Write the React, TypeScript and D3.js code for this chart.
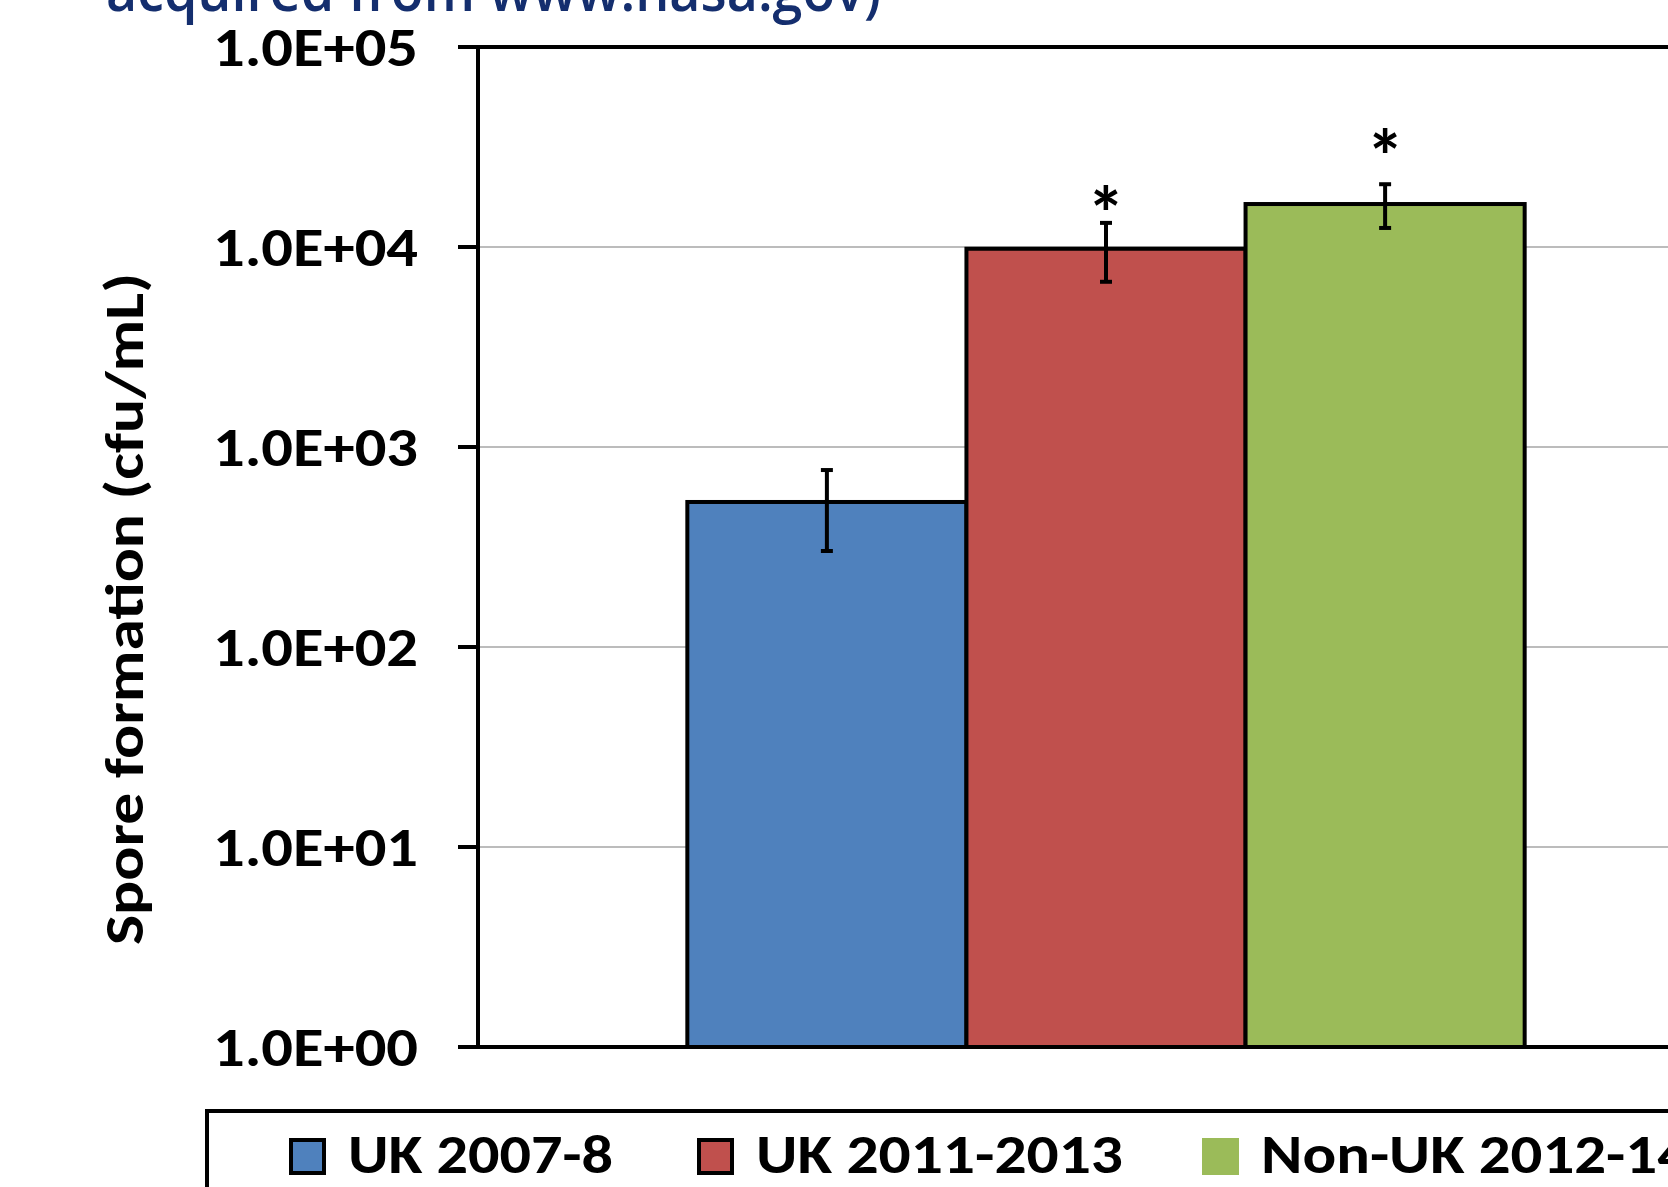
import React from "react";
import * as d3 from "d3";

// Spore formation by isolate group (cfu/mL), log scale
const categories = ["Spore formation"];
const seriesNames = ["UK 2007-8", "UK 2011-2013", "Non-UK 2012-14"];
const seriesColors = ["#4F81BD", "#C0504D", "#9BBB59"];
const meanValues = [531, 9800, 16400];
const upperErr = [767, 13200, 20600];
const lowerErr = [302, 6700, 12450];
// significance markers (asterisk placed at this value, null = none)
const markerLevels: (number | null)[] = [null, 17200, 33100];
const tickValues = [1, 10, 100, 1000, 10000, 100000];
const tickLabels = ["1.0E+00", "1.0E+01", "1.0E+02", "1.0E+03", "1.0E+04", "1.0E+05"];
const legendBorder = [true, true, false];
const legendTextWidths = [265, 367, 428];

const W = 1668;
const H = 1187;
const FONT = "Carlito, Calibri, 'Open Sans', sans-serif";

export default function App() {
  const plotLeft = 478;
  const plotRight = 1734;
  const plotTop = 47;
  const plotBottom = 1047;

  const y = d3.scaleLog().domain([1, 100000]).range([plotBottom, plotTop]);
  const x0 = d3
    .scaleBand<string>()
    .domain(categories)
    .range([plotLeft, plotRight])
    .paddingInner(0)
    .paddingOuter(0.25);
  const x1 = d3
    .scaleBand<string>()
    .domain(seriesNames)
    .range([0, x0.bandwidth()])
    .padding(0);

  const g0 = x0(categories[0]) as number;

  return (
    <svg
      width={W}
      height={H}
      style={{ display: "block", position: "absolute", left: 0, top: 0, background: "#fff" }}
    >
      {/* caption fragment at top */}
      <text
        x={106}
        y={11}
        fontFamily="'Open Sans', Lato, sans-serif"
        fontWeight={600}
        fontSize={58}
        fill="#142E6E"
        textLength={775}
        lengthAdjust="spacingAndGlyphs"
      >
        acquired from www.nasa.gov)
      </text>

      {/* grid lines */}
      {tickValues.slice(1, 5).map((t) => (
        <line
          key={"g" + t}
          x1={plotLeft}
          x2={plotRight}
          y1={y(t)}
          y2={y(t)}
          stroke="#A6A6A6"
          strokeWidth={1.5}
        />
      ))}

      {/* bars */}
      {seriesNames.map((s, i) => {
        const bx = g0 + (x1(s) as number);
        return (
          <rect
            key={"b" + s}
            x={bx}
            y={y(meanValues[i])}
            width={x1.bandwidth()}
            height={plotBottom - y(meanValues[i])}
            fill={seriesColors[i]}
            stroke="#000"
            strokeWidth={4}
          />
        );
      })}

      {/* error bars */}
      {seriesNames.map((s, i) => {
        const cx = g0 + (x1(s) as number) + x1.bandwidth() / 2;
        return (
          <g key={"e" + s} stroke="#000" strokeWidth={4}>
            <line x1={cx} x2={cx} y1={y(upperErr[i])} y2={y(lowerErr[i])} />
            <line x1={cx - 6} x2={cx + 6} y1={y(upperErr[i])} y2={y(upperErr[i])} />
            <line x1={cx - 6} x2={cx + 6} y1={y(lowerErr[i])} y2={y(lowerErr[i])} />
          </g>
        );
      })}

      {/* significance asterisks */}
      {seriesNames.map((s, i) => {
        const m = markerLevels[i];
        if (m == null) return null;
        const cx = g0 + (x1(s) as number) + x1.bandwidth() / 2;
        return (
          <text
            key={"m" + s}
            x={cx}
            y={y(m) + 40}
            textAnchor="middle"
            fontFamily={FONT}
            fontWeight="bold"
            fontSize={76}
            fill="#000"
          >
            *
          </text>
        );
      })}

      {/* axes */}
      <line x1={plotLeft} x2={plotLeft} y1={plotTop - 2} y2={plotBottom + 2} stroke="#000" strokeWidth={4} />
      <line x1={plotLeft - 20} x2={plotRight} y1={plotTop} y2={plotTop} stroke="#000" strokeWidth={4} />
      <line x1={plotLeft - 20} x2={plotRight} y1={plotBottom} y2={plotBottom} stroke="#000" strokeWidth={4} />
      {tickValues.map((t) => (
        <line
          key={"t" + t}
          x1={plotLeft - 20}
          x2={plotLeft}
          y1={y(t)}
          y2={y(t)}
          stroke="#000"
          strokeWidth={4}
        />
      ))}
      {tickValues.map((t, i) => (
        <text
          key={"l" + t}
          x={418}
          y={y(t) + 19}
          textAnchor="end"
          fontFamily={FONT}
          fontWeight="bold"
          fontSize={54}
          fill="#000"
          textLength={205}
          lengthAdjust="spacingAndGlyphs"
        >
          {tickLabels[i]}
        </text>
      ))}

      {/* y axis title */}
      <text
        transform={`translate(143, ${(plotTop + plotBottom) / 2 + 62}) rotate(-90)`}
        textAnchor="middle"
        fontFamily={FONT}
        fontWeight="bold"
        fontSize={54}
        fill="#000"
        textLength={672}
        lengthAdjust="spacingAndGlyphs"
      >
        Spore formation (cfu/mL)
      </text>

      {/* legend */}
      <rect x={207} y={1111} width={1600} height={200} fill="#fff" stroke="#000" strokeWidth={4} />
      {seriesNames.map((s, i) => {
        const lx = [289, 697, 1202][i];
        return (
          <g key={"lg" + s}>
            <rect
              x={lx + (legendBorder[i] ? 2 : 0)}
              y={1138 + (legendBorder[i] ? 2 : 0)}
              width={legendBorder[i] ? 33 : 37}
              height={legendBorder[i] ? 33 : 37}
              fill={seriesColors[i]}
              stroke={legendBorder[i] ? "#000" : "none"}
              strokeWidth={4}
            />
            <text
              x={lx + 59}
              y={1173}
              fontFamily={FONT}
              fontWeight="bold"
              fontSize={54}
              fill="#000"
              textLength={legendTextWidths[i]}
              lengthAdjust="spacingAndGlyphs"
            >
              {s}
            </text>
          </g>
        );
      })}
    </svg>
  );
}
